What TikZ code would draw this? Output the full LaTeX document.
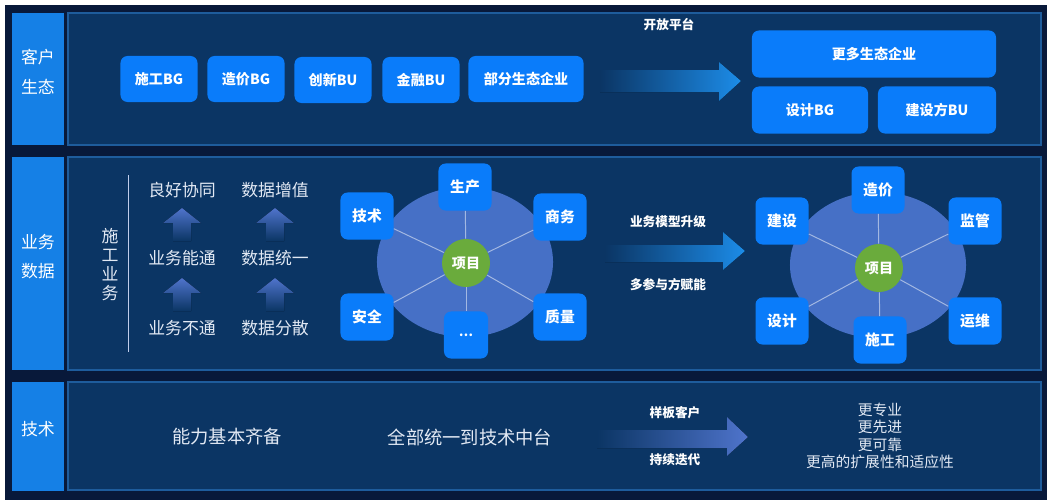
\documentclass[tikz,border=0pt]{standalone}
\usepackage{fontspec}
\setmainfont{Noto Sans CJK SC}
\usepackage{xcolor}
\usetikzlibrary{fit,shapes.geometric}

\definecolor{bgdark}{HTML}{08193A}
\definecolor{panelblue}{HTML}{0B3564}
\definecolor{panelline}{HTML}{1E5C9C}
\definecolor{labelblue}{HTML}{1580E6}
\definecolor{chipblue}{HTML}{0A7CFA}
\definecolor{hubblue}{HTML}{4670C6}
\definecolor{hubgreen}{HTML}{6AAB3C}
\definecolor{spokecol}{HTML}{A3B8E2}
\definecolor{arrowblue}{HTML}{1C8CE8}
\definecolor{arrowpurple}{HTML}{4F74CC}
\definecolor{softwhite}{HTML}{E2E9F4}

\begin{document}
\begin{tikzpicture}[x=0.025cm, y=-0.025cm,
  rowlabel/.style={fill=labelblue, inner sep=0pt, text=white, align=center,
                   font=\fontsize{12}{21}\selectfont},
  panel/.style={fill=panelblue, draw=panelline, line width=0.8pt, inner sep=0pt},
  chip/.style={rounded corners=5pt, fill=chipblue, text=white,
               minimum width=1.925cm, minimum height=1.15cm,
               font=\bfseries\fontsize{10}{12}\selectfont},
  hubbox/.style={rounded corners=5pt, fill=chipblue, text=white,
                 minimum width=1.325cm, minimum height=1.175cm,
                 font=\bfseries\fontsize{10.5}{12}\selectfont},
  hubdisk/.style={ellipse, fill=hubblue, inner sep=0pt},
  hubcore/.style={circle, fill=hubgreen, text=white, minimum size=1.2cm,
                  inner sep=0pt, font=\bfseries\fontsize{10}{12}\selectfont},
  spoke/.style={draw=spokecol, line width=0.7pt},
  plain/.style={text=softwhite, font=\fontsize{12}{14}\selectfont},
  bigtext/.style={text=softwhite, font=\fontsize{13}{15}\selectfont},
  arrlabel/.style={text=white, font=\bfseries\fontsize{9}{11}\selectfont}
]
% background
\fill[white] (0,0) rectangle (1047,500);
\fill[bgdark] (5,5) rectangle (1047,500);

% rows
\node[panel, fit={(68,13) (1041,145)}] (p1) {};
\node[panel, fit={(68,157) (1041,370)}] (p2) {};
\node[panel, fit={(68,382) (1041,490)}] (p3) {};
\node[rowlabel, fit={(12,13) (64,145)}] (kehu) {客户\\生态};
\node[rowlabel, fit={(12,157) (64,370)}] (yewu) {业务\\数据};
\node[rowlabel, fit={(12,382) (64,491)}] (jishu) {技术};

% customer ecosystem
\node[chip] (sgbg) at (159,79) {施工BG};
\node[chip] (zjbg) at (246,79) {造价BG};
\node[chip] (cxbu) at (333,80) {创新BU};
\node[chip] (jrbu) at (421,80) {金融BU};
\node[chip, minimum width=2.875cm] (bfst) at (526,79) {部分生态企业};

\fill[left color=panelblue, right color=arrowblue]
  (600,70) -- (719,70) -- (719,62) -- (741,81) -- (719,101) -- (719,92) -- (600,92) -- cycle;
\node[arrlabel] (kfpt) at (669,25) {开放平台};

\node[chip, minimum width=6.1cm, minimum height=1.175cm] (gdst) at (874,54) {更多生态企业};
\node[chip, minimum width=2.9cm, minimum height=1.175cm] (sjbg) at (810,110) {设计BG};
\node[chip, minimum width=2.95cm, minimum height=1.175cm] (jsbu) at (937,110) {建设方BU};

% business data, left part
\node[plain, align=center, font=\fontsize{12}{13.5}\selectfont] (sgyw) at (110,265) {施\\工\\业\\务};
\draw[draw=spokecol!70, line width=0.6pt] (128,175) -- (128,352);

\node[plain] (lhxt) at (182,190) {良好协同};
\node[plain] (ywnt) at (182,258) {业务能通};
\node[plain] (ywbt) at (182,328) {业务不通};
\node[plain] (sjzz) at (275,190) {数据增值};
\node[plain] (sjty) at (275,258) {数据统一};
\node[plain] (sjfs) at (275,328) {数据分散};

\foreach \ax in {182,275}
  \foreach \ay in {208,278}
    \fill[top color=arrowpurple, bottom color=panelblue]
      (\ax,\ay) -- (\ax+19,\ay+15) -- (\ax+9,\ay+15) -- (\ax+9,\ay+33)
      -- (\ax-9,\ay+33) -- (\ax-9,\ay+15) -- (\ax-19,\ay+15) -- cycle;

% hub 1
\node[hubdisk, minimum width=4.4cm, minimum height=3.75cm] (disk1) at (465,262) {};
\node[hubcore] (core1) at (466,263) {项目};
\node[hubbox] (scs) at (465,187) {生产};
\node[hubbox] (jsu) at (367,216) {技术};
\node[hubbox] (swu) at (560,217) {商务};
\node[hubbox] (aqu) at (367,317) {安全};
\node[hubbox] (zlu) at (560,317) {质量};
\node[hubbox, minimum width=1.1cm, font=\bfseries\fontsize{9}{11}\selectfont] (ddd) at (466,335) {…};
\foreach \b in {scs,jsu,swu,aqu,zlu,ddd}
  \draw[spoke] (core1) -- (\b);

% upgrade arrow
\fill[left color=panelblue, right color=arrowblue]
  (605,245) -- (723,245) -- (723,232) -- (745,251) -- (723,270) -- (723,262) -- (605,262) -- cycle;
\node[arrlabel] (ywmx) at (668,222) {业务模型升级};
\node[arrlabel] (dcyf) at (668,285) {多参与方赋能};

% hub 2
\node[hubdisk, minimum width=4.4cm, minimum height=3.65cm] (disk2) at (878,265) {};
\node[hubcore] (core2) at (879,268) {项目};
\node[hubbox] (zjv) at (878,190) {造价};
\node[hubbox] (jsv) at (782,221) {建设};
\node[hubbox] (jgv) at (975,221) {监管};
\node[hubbox] (sjv) at (782,321) {设计};
\node[hubbox] (ywv) at (975,321) {运维};
\node[hubbox] (sgv) at (880,340) {施工};
\foreach \b in {zjv,jsv,jgv,sjv,ywv,sgv}
  \draw[spoke] (core2) -- (\b);

% technology
\node[bigtext] (nljb) at (227,437) {能力基本齐备};
\node[bigtext] (qbty) at (470,437) {全部统一到技术中台};
\fill[left color=panelblue, right color=arrowpurple]
  (597,430) -- (727,430) -- (727,417) -- (748,437) -- (727,456) -- (727,448) -- (597,448) -- cycle;
\node[arrlabel] (ybkh) at (675,413) {样板客户};
\node[arrlabel] (cxdd) at (675,460) {持续迭代};
\node[text=softwhite, align=center, font=\fontsize{10.5}{12.5}\selectfont] (gzy) at (880,436)
  {更专业\\更先进\\更可靠\\更高的扩展性和适应性};
\end{tikzpicture}
\end{document}
